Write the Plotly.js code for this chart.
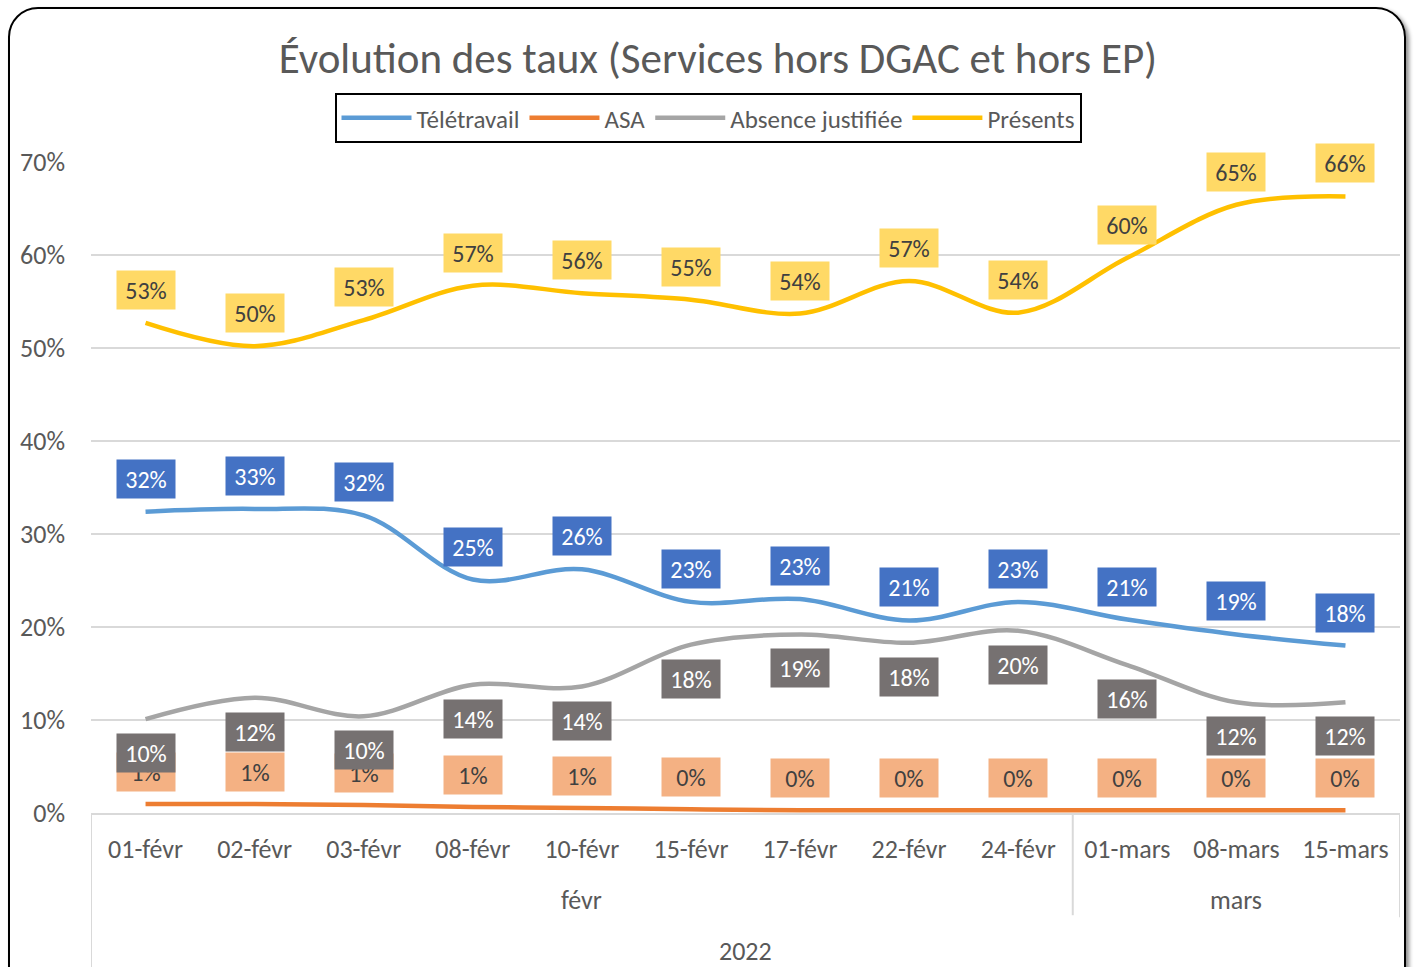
<!DOCTYPE html>
<html>
<head>
<meta charset="utf-8">
<script src="https://cdn.plot.ly/plotly-3.0.1.min.js"></script>
<style>
  html, body { margin: 0; padding: 0; background: #fff; }
  #wrap { position: relative; width: 1416px; height: 967px; overflow: hidden; }
  #chart { position: absolute; left: 0; top: 0; width: 1416px; height: 967px; }
  #frame { position: absolute; left: 8px; top: 7px; width: 1394px; height: 990px;
           border: 2px solid #000; border-radius: 30px; pointer-events: none;
           box-shadow: 3px 3px 4px rgba(0,0,0,0.45); }
</style>
</head>
<body>
<div id="wrap">
  <div id="chart"></div>
  <div id="frame"></div>
</div>
<script>
const FONT = "Carlito, 'Liberation Sans Narrow', 'Open Sans', sans-serif";

const categories = ['01-févr','02-févr','03-févr','08-févr','10-févr','15-févr','17-févr','22-févr','24-févr','01-mars','08-mars','15-mars'];
const months     = ['févr','févr','févr','févr','févr','févr','févr','févr','févr','mars','mars','mars'];
const year       = '2022';

const teletravail = [0.324, 0.327, 0.320, 0.251, 0.262, 0.227, 0.230, 0.207, 0.227, 0.208, 0.192, 0.180];
const asa         = [0.0097, 0.0097, 0.0086, 0.0065, 0.0054, 0.004, 0.003, 0.003, 0.003, 0.003, 0.003, 0.003];
const absence     = [0.101, 0.124, 0.104, 0.138, 0.136, 0.181, 0.192, 0.183, 0.196, 0.159, 0.119, 0.119];
const presents    = [0.527, 0.502, 0.530, 0.567, 0.559, 0.552, 0.537, 0.572, 0.538, 0.597, 0.654, 0.663];

const seriesNames = ['Télétravail', 'ASA', 'Absence justifiée', 'Présents'];
const seriesData  = [teletravail, asa, absence, presents];
const lineColors  = ['#5B9BD5', '#ED7D31', '#A5A5A5', '#FFC000'];
const labelBg     = ['#4472C4', '#F4B183', '#767171', '#FFD966'];
const labelFg     = ['#FFFFFF', '#404040', '#FFFFFF', '#404040'];
const labelShift  = [33, 32, -34, 33];

const xIdx = categories.map((c, i) => i);

const traces = seriesData.map((vals, s) => ({
  type: 'scatter', mode: 'lines', name: seriesNames[s],
  x: xIdx, y: vals,
  line: { color: lineColors[s], width: 4.5, shape: 'spline', smoothing: 1 },
  hoverinfo: 'skip'
}));

// data labels: draw order ASA, Télétravail, Absence, Présents so Absence covers ASA
const annotations = [];
[1, 0, 2, 3].forEach(s => {
  seriesData[s].forEach((v, i) => {
    annotations.push({
      x: i, y: v, xref: 'x', yref: 'y',
      text: Math.round(v * 100) + '%',
      showarrow: false, yshift: labelShift[s],
      width: 46, height: 26, borderpad: 6,
      bgcolor: labelBg[s],
      font: { family: FONT, size: 24, color: labelFg[s] }
    });
  });
});

// month group labels and separators
const groups = [];
months.forEach((m, i) => {
  if (!groups.length || groups[groups.length - 1].label !== m) groups.push({ label: m, from: i, to: i });
  else groups[groups.length - 1].to = i;
});
groups.forEach(g => {
  annotations.push({
    x: (g.from + g.to) / 2, y: 0, xref: 'x', yref: 'paper', yanchor: 'middle',
    text: g.label, showarrow: false, yshift: -87,
    font: { family: FONT, size: 26, color: '#595959' }
  });
});
annotations.push({
  x: (categories.length - 1) / 2, y: 0, xref: 'x', yref: 'paper', yanchor: 'middle',
  text: year, showarrow: false, yshift: -138,
  font: { family: FONT, size: 26, color: '#595959' }
});

const shapes = [];
shapes.push({ type: 'line', xref: 'x', yref: 'paper', x0: -0.5, x1: -0.5, y0: 0, y1: -0.25, line: { color: '#D9D9D9', width: 2 } });
shapes.push({ type: 'line', xref: 'x', yref: 'paper', x0: categories.length - 0.5, x1: categories.length - 0.5, y0: 0, y1: -0.16, line: { color: '#D9D9D9', width: 2 } });
groups.slice(1).forEach(g => {
  shapes.push({ type: 'line', xref: 'x', yref: 'paper', x0: g.from - 0.5, x1: g.from - 0.5, y0: 0, y1: -0.157, line: { color: '#D9D9D9', width: 2 } });
});

const layout = {
  width: 1416, height: 967,
  margin: { l: 91, r: 16, t: 162, b: 154 },
  paper_bgcolor: '#FFFFFF', plot_bgcolor: '#FFFFFF',
  title: {
    text: 'Évolution des taux (Services hors DGAC et hors EP)',
    font: { family: FONT, size: 43, color: '#595959' },
    x: 0.507, xanchor: 'center', y: 0.94, yanchor: 'middle'
  },
  showlegend: true,
  legend: {
    orientation: 'h', xref: 'container', yref: 'container',
    x: 0.5, xanchor: 'center', y: 1 - 93 / 967, yanchor: 'top',
    bordercolor: '#000000', borderwidth: 2, bgcolor: '#FFFFFF',
    font: { family: FONT, size: 25, color: '#595959' },
    itemwidth: 70, traceorder: 'normal'
  },
  xaxis: {
    type: 'linear', range: [-0.5, categories.length - 0.5],
    tickmode: 'array', tickvals: xIdx, ticktext: categories,
    showgrid: false, zeroline: false, showline: true, linecolor: '#D9D9D9', linewidth: 2,
    ticks: '', ticklabelstandoff: 12,
    tickfont: { family: FONT, size: 26, color: '#595959' },
    fixedrange: true
  },
  yaxis: {
    range: [0, 0.7], tickvals: [0, 0.1, 0.2, 0.3, 0.4, 0.5, 0.6, 0.7], tickformat: '.0%',
    showgrid: true, gridcolor: '#D9D9D9', gridwidth: 2, zeroline: false, showline: false,
    ticks: '', ticklabelstandoff: 25,
    tickfont: { family: FONT, size: 26, color: '#595959' },
    fixedrange: true
  },
  annotations: annotations,
  shapes: shapes
};

Plotly.newPlot('chart', traces, layout, { displayModeBar: false, staticPlot: true });
</script>
</body>
</html>
